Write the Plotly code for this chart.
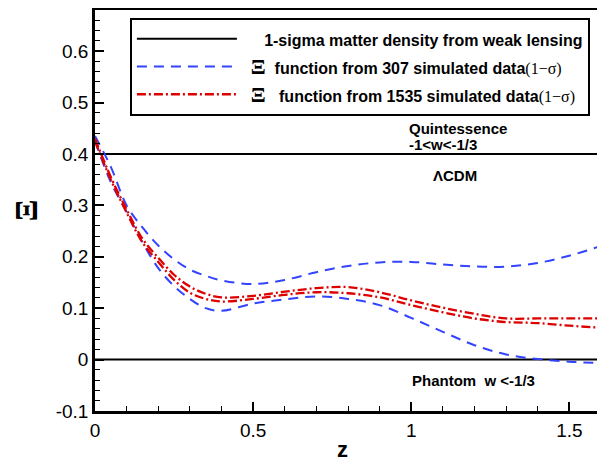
import plotly.graph_objects as go

# redshift grid
z = [0, 0.05, 0.1, 0.15, 0.2, 0.25, 0.3, 0.35, 0.4, 0.5, 0.6, 0.7, 0.8,
     0.9, 1.0, 1.1, 1.2, 1.3, 1.4, 1.5, 1.6]

# Xi function, 307 simulated data (1-sigma band)
xi307_upper = [0.435, 0.375, 0.300, 0.257, 0.222, 0.195, 0.175, 0.163, 0.154, 0.147, 0.155,
               0.170, 0.182, 0.189, 0.190, 0.185, 0.181, 0.181, 0.188, 0.202, 0.221]
xi307_lower = [0.425, 0.345, 0.287, 0.228, 0.178, 0.143, 0.118, 0.100, 0.095, 0.109, 0.117,
               0.123, 0.118, 0.106, 0.081, 0.054, 0.028, 0.010, 0.001, -0.004, -0.007]

# Xi function, 1535 simulated data (1-sigma band)
xi1535_upper = [0.430, 0.355, 0.292, 0.235, 0.198, 0.165, 0.142, 0.128, 0.121, 0.124, 0.132,
                0.139, 0.141, 0.131, 0.115, 0.101, 0.089, 0.080, 0.080, 0.080, 0.080]
xi1535_lower = [0.425, 0.350, 0.286, 0.228, 0.190, 0.155, 0.130, 0.118, 0.113, 0.118, 0.126,
                0.131, 0.129, 0.121, 0.106, 0.092, 0.080, 0.073, 0.071, 0.066, 0.062]

# weak lensing bounds
wl_z = [0, 1.6, None, 0, 1.6]
wl_y = [0.4, 0.4, None, 0, 0]

# legend font is large (row spacing), the visible text is set smaller via spans
sans = 'font-size:16px'
serif = 'font-family:Liberation Serif, Times New Roman, serif;font-weight:normal;font-size:16px'
big_xi = 'font-family:Liberation Serif, Times New Roman, serif;font-size:22px'
name_wl = f'<span style="{sans}">' + '\u00a0' * 5 + '1-sigma matter density from weak lensing</span>'
name_307 = (f'<span style="{sans}">\u00a0\u00a0</span><span style="{big_xi}">Ξ</span>'
            f'<span style="{sans}">  function from 307 simulated data</span>'
            f'<span style="{serif}">(1−σ)</span>')
name_1535 = (f'<span style="{sans}">\u00a0\u00a0</span><span style="{big_xi}">Ξ</span>'
             f'<span style="{sans}">   function from 1535 simulated data</span>'
             f'<span style="{serif}">(1−σ)</span><span style="{sans}">\u00a0</span>')

blue = '#3344ff'
red = '#dd0000'

fig = go.Figure()
fig.add_trace(go.Scatter(x=wl_z, y=wl_y, mode='lines', name=name_wl,
                         line=dict(color='black', width=2)))
fig.add_trace(go.Scatter(x=z, y=xi307_upper, mode='lines', name=name_307, legendgroup='a',
                         line=dict(color=blue, width=2, dash='10px,7px', shape='spline')))
fig.add_trace(go.Scatter(x=z, y=xi307_lower, mode='lines', name=name_307, legendgroup='a',
                         showlegend=False,
                         line=dict(color=blue, width=2, dash='10px,7px', shape='spline')))
fig.add_trace(go.Scatter(x=z, y=xi1535_upper, mode='lines', name=name_1535, legendgroup='b',
                         line=dict(color=red, width=2.3, dash='9px,3px,2px,3px', shape='spline')))
fig.add_trace(go.Scatter(x=z, y=xi1535_lower, mode='lines', name=name_1535, legendgroup='b',
                         showlegend=False,
                         line=dict(color=red, width=2.3, dash='9px,3px,2px,3px', shape='spline')))

ann_font = dict(family='Liberation Sans, Arial', size=15, color='black')
fig.add_annotation(x=0.986, y=0.449, xref='x', yref='y', xanchor='left',
                   text='<b>Quintessence</b>', showarrow=False, font=ann_font)
fig.add_annotation(x=0.986, y=0.4175, xref='x', yref='y', xanchor='left',
                   text='<b>-1<w<-1/3</b>', showarrow=False, font=ann_font)
fig.add_annotation(x=1.138, y=0.359, xref='x', yref='y', text='<b>ΛCDM</b>',
                   showarrow=False, font=ann_font)
fig.add_annotation(x=1.198, y=-0.04, xref='x', yref='y', text='<b>Phantom  w <-1/3</b>',
                   showarrow=False, font=ann_font)
# x axis title
fig.add_annotation(x=0.49, y=-0.097, xref='paper', yref='paper', text='<b>z</b>',
                   showarrow=False, yanchor='middle',
                   font=dict(family='Liberation Sans, Arial', size=22, color='black'))

axis_common = dict(showline=True, linecolor='black', linewidth=2.5, mirror=True,
                   ticks='inside', ticklen=9, tickwidth=2, tickcolor='black',
                   showgrid=False, zeroline=False, automargin=False,
                   tickfont=dict(family='Liberation Sans, Arial', size=19, color='black'))

# page body adds an 8px offset, so the figure is a bit smaller than the window
fig.update_layout(
    width=597, height=455,
    margin=dict(l=87, r=4, t=2, b=52),
    paper_bgcolor='white', plot_bgcolor='white',
    xaxis=dict(range=[0, 1.6], tickvals=[0, 0.5, 1, 1.5], ticktext=['0', '0.5', '1', '1.5'],
               minor=dict(dtick=0.1, ticks='inside', ticklen=5, tickwidth=1, tickcolor='black'),
               **axis_common),
    yaxis=dict(range=[-0.1, 0.68], tickvals=[-0.1, 0, 0.1, 0.2, 0.3, 0.4, 0.5, 0.6],
               ticktext=['-0.1', '0', '0.1', '0.2', '0.3', '0.4', '0.5', '0.6'],
               minor=dict(dtick=0.02, ticks='inside', ticklen=5, tickwidth=1, tickcolor='black'),
               title=dict(text='<b>Ξ</b>', standoff=10,
                          font=dict(family='Liberation Serif, Times New Roman', size=32, color='black')),
               **axis_common),
    legend=dict(x=0.069, y=0.98, xanchor='left', yanchor='top',
                bgcolor='white', bordercolor='black', borderwidth=2,
                itemwidth=100, tracegroupgap=0,
                font=dict(family='Liberation Sans, Arial', size=19, color='black', weight='bold')),
    showlegend=True,
)

fig.write_html("out.html")
